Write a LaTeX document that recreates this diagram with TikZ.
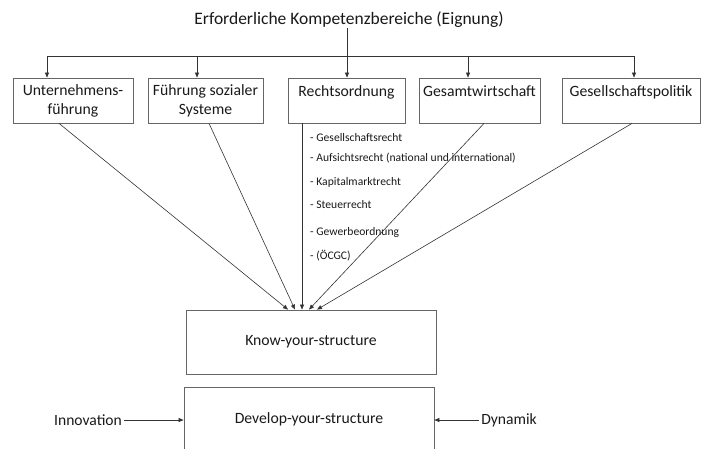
\documentclass[tikz,border=0pt]{standalone}
\usepackage{fontspec}
\setmainfont{Carlito}
\usetikzlibrary{arrows.meta}
\begin{document}
\begin{tikzpicture}[x=1pt,y=-1pt,
  box/.style={draw=black!60,line width=0.8pt,minimum height=45pt,align=center,inner sep=0pt,font=\fontsize{15.7}{19}\selectfont,text=black!90},
  bigbox/.style={draw=black!60,line width=0.8pt,minimum width=250pt,minimum height=64pt,inner sep=0pt,font=\fontsize{15.7}{19}\selectfont,text=black!90},
  lst/.style={anchor=west,inner sep=0pt,font=\fontsize{11.6}{13}\selectfont,text=black!90},
  lbl/.style={inner sep=0pt,font=\fontsize{15.6}{19}\selectfont,text=black!90},
  con/.style={draw=black!80,line width=0.6pt},
  arr/.style={con,-{Triangle[length=5pt,width=4pt]}}]
\useasboundingbox (0,0) rectangle (710,448);
\clip (0,0) rectangle (710,448);
\node[inner sep=0pt,font=\fontsize{17.5}{21}\selectfont,text=black!90] (title) at (349,20) {Erforderliche Kompetenzbereiche (Eignung)};
\node[box,minimum width=120pt] (b1) at (73,100.5) {Unternehmens-\\führung};
\node[box,minimum width=115pt] (b2) at (205.5,100.5) {Führung sozialer\\Systeme};
\node[box,minimum width=117pt] (b3) at (346.5,100.5) {Rechtsordnung\\\mbox{}};
\node[box,minimum width=121pt] (b4) at (479.5,100.5) {Gesamtwirtschaft\\\mbox{}};
\node[box,minimum width=138pt] (b5) at (631,100.5) {Gesellschaftspolitik\\\mbox{}};
\node[bigbox] (know) at (311,342) {Know-your-structure};
\node[bigbox] (dev) at (309,419) {Develop-your-structure};
\node[lbl] (inno) at (88,420) {Innovation};
\node[lbl] (dyn) at (509,420) {Dynamik};
\node[lst] (l1) at (310,138) {- Gesellschaftsrecht};
\node[lst] (l2) at (310,158) {- Aufsichtsrecht (national und international)};
\node[lst] (l3) at (310,182) {- Kapitalmarktrecht};
\node[lst] (l4) at (310,205) {- Steuerrecht};
\node[lst] (l5) at (310,232) {- Gewerbeordnung};
\node[lst] (l6) at (310,256) {- (ÖCGC)};
\coordinate (j1) at (47,56);
\coordinate (j2) at (197,56);
\coordinate (j3) at (347,56);
\coordinate (j4) at (468,56);
\coordinate (j5) at (634,56);
\draw[con] (j1) -- (j5);
\draw[arr] (title.south -| j3) -- (j3 |- b3.north);
\draw[arr] (j1) -- (j1 |- b1.north);
\draw[arr] (j2) -- (j2 |- b2.north);
\draw[arr] (j4) -- (j4 |- b4.north);
\draw[arr] (j5) -- (j5 |- b5.north);
\draw[arr] ([xshift=-14pt]b1.south) -- ([xshift=-23pt]know.north);
\draw[arr] ([xshift=3.5pt]b2.south) -- ([xshift=-16pt]know.north);
\draw[arr] ([xshift=-44.5pt]b3.south) -- ([xshift=-9pt]know.north);
\draw[arr] ([xshift=4.5pt]b4.south) -- ([xshift=-2pt]know.north);
\draw[arr] ([xshift=1pt]b5.south) -- ([xshift=6pt]know.north);
\draw[arr] ([xshift=2pt]inno.east) -- (inno.east -| dev.west);
\draw[arr] ([xshift=-2pt]dyn.west) -- (dyn.west -| dev.east);
\end{tikzpicture}
\end{document}
